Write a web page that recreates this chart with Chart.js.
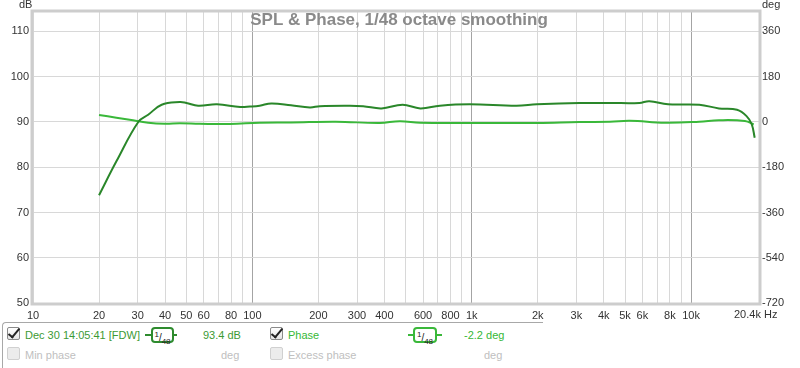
<!DOCTYPE html>
<html>
<head>
<meta charset="utf-8">
<script src="https://cdn.jsdelivr.net/npm/chart.js@4"></script>
<style>
  html, body { margin: 0; padding: 0; background: #fff; }
  body { width: 800px; height: 368px; position: relative; overflow: hidden;
         font-family: "Liberation Sans", Arial, sans-serif; font-size: 11px; }
  #wrap { position: absolute; left: 0; top: 0; width: 800px; height: 322px; }
  #panel { position: absolute; left: 2px; top: 322px; width: 540px; height: 50px;
           border-top: 1px solid #a8a8a8; border-left: 1px solid #a8a8a8; border-top-left-radius: 4px; }
  .it { position: absolute; white-space: nowrap; line-height: 13px; }
  .cb { position: absolute; width: 11px; height: 11px; border: 1px solid #8a8a8a; border-radius: 2px;
        background: linear-gradient(#fff, #e4e4e4); }
  .cb.off { border-color: #d0d0d0; background: #ececec; }
  .cb.on::after { content: ""; position: absolute; left: 3px; top: -2px; width: 4px; height: 10px;
        border: solid #222; border-width: 0 2px 2px 0; transform: rotate(40deg); }
  .badge { position: absolute; height: 12px; border-radius: 4px; font-size: 10px; line-height: 12px;
           text-align: center; color: #222; background: #fff; }
  .stub { position: absolute; height: 0; }
  .dim { color: #c0c0c0; }
</style>
</head>
<body>
<div id="wrap"><canvas id="spl" width="800" height="322"></canvas></div>
<div id="panel"></div>
<div class="cb on" style="left:7px;top:327px"></div>
<div class="it" style="left:25px;top:329px;color:#3c9a34">Dec 30 14:05:41 [FDW]</div>
<div class="stub" style="left:145px;top:334px;width:32px;border-top:2px solid #2e8b2e"></div>
<div class="badge" style="left:151px;top:327px;width:19px;border:2px solid #2e8b2e"><sup style="font-size:8px">1</sup>/<sub style="font-size:8px">48</sub></div>
<div class="it" style="left:203px;top:329px;color:#3c9a34">93.4 dB</div>
<div class="cb off" style="left:7px;top:347px"></div>
<div class="it dim" style="left:25px;top:349px">Min phase</div>
<div class="it dim" style="left:221px;top:349px">deg</div>

<div class="cb on" style="left:270px;top:327px"></div>
<div class="it" style="left:288px;top:329px;color:#36b836">Phase</div>
<div class="stub" style="left:408px;top:334px;width:34px;border-top:2px solid #3ab83a"></div>
<div class="badge" style="left:413px;top:327px;width:20px;border:2px solid #3ab83a"><sup style="font-size:8px">1</sup>/<sub style="font-size:8px">48</sub></div>
<div class="it" style="left:464px;top:329px;color:#36b836">-2.2 deg</div>
<div class="cb off" style="left:270px;top:347px"></div>
<div class="it dim" style="left:288px;top:349px">Excess phase</div>
<div class="it dim" style="left:484px;top:349px">deg</div>

<script>
// SPL curve (dB)
const splFreq = [20, 24, 30.3, 33.5, 38.6, 46.7, 50, 56.6, 69, 88, 97.5, 108, 122, 150, 183, 203, 278, 320, 388, 484, 583, 716, 978, 1600, 1982, 3105, 4270, 5810, 6450, 7850, 10900, 13400, 16200, 17900, 18900, 19500];
const splDb = [73.8, 81.3, 90.1, 91.6, 93.8, 94.4, 94.2, 93.6, 93.9, 93.3, 93.4, 93.6, 94.1, 93.7, 93.2, 93.5, 93.6, 93.5, 93.0, 93.8, 93.0, 93.6, 93.9, 93.6, 93.9, 94.2, 94.2, 94.2, 94.6, 93.9, 93.8, 93.0, 92.7, 91.3, 89.5, 86.5];

// Phase curve (deg)
const phaseFreq = [20, 24, 27.6, 33.5, 40, 46.7, 57.6, 79, 108, 150, 240, 381, 470, 583, 978, 2000, 3100, 4270, 5260, 7590, 10900, 13400, 17600, 19300];
const phaseDeg = [28, 17, 9, -3, -7, -5, -7, -8, -3, -2, 1, -4, 3, -3, -4, -4, 0, 1, 5, -3, 1, 7, 4, -10];

// axes
const xTicks = [10, 20, 30, 40, 50, 60, 70, 80, 90, 100, 200, 300, 400, 500, 600, 700, 800, 900, 1000, 2000, 3000, 4000, 5000, 6000, 7000, 8000, 9000, 10000, 20400];
const xLabels = ['10', '20', '30', '40', '50', '60', '', '80', '', '100', '200', '300', '400', '', '600', '', '800', '', '1k', '2k', '3k', '4k', '5k', '6k', '', '8k', '', '10k', ''];
const decades = [100, 1000, 10000];
const dbTicks = [50, 60, 70, 80, 90, 100, 110];
const degTicks = [-720, -540, -360, -180, 0, 180, 360];

const dbMin = 50, dbMax = 114.3;
const font = { family: '"Liberation Sans", Arial, sans-serif', size: 11 };

const decor = {
  id: 'decor',
  afterDraw(chart) {
    const { ctx, chartArea: a } = chart;
    ctx.save();
    ctx.strokeStyle = '#cdcdcd';
    ctx.lineWidth = 3;
    ctx.strokeRect(a.left - 1, a.top - 1, a.right - a.left + 2, a.bottom - a.top + 2);
    ctx.fillStyle = '#8a8a8a';
    ctx.font = 'bold 17px "Liberation Sans", Arial, sans-serif';
    ctx.textAlign = 'center';
    ctx.textBaseline = 'middle';
    ctx.fillText('SPL & Phase, 1/48 octave smoothing', (a.left + a.right) / 2 + 3, 20);
    ctx.fillStyle = '#333';
    ctx.font = '11px "Liberation Sans", Arial, sans-serif';
    ctx.textAlign = 'left';
    ctx.fillText('dB', 19, 5);
    ctx.fillText('deg', 762, 5);
    ctx.fillText('20.4k Hz', 734, 315);
    ctx.restore();
  }
};

new Chart(document.getElementById('spl').getContext('2d'), {
  type: 'line',
  data: {
    datasets: [
      {
        label: 'SPL',
        data: splFreq.map((f, i) => ({ x: f, y: splDb[i] })),
        borderColor: '#2a872a',
        borderWidth: 2,
        pointRadius: 0,
        tension: 0.4,
        yAxisID: 'y',
      },
      {
        label: 'Phase',
        data: phaseFreq.map((f, i) => ({ x: f, y: phaseDeg[i] })),
        borderColor: '#3ab83a',
        borderWidth: 2,
        pointRadius: 0,
        tension: 0.4,
        yAxisID: 'y2',
      }
    ]
  },
  options: {
    responsive: false,
    animation: false,
    layout: { padding: { top: 12, left: 0, right: 0, bottom: 0 } },
    plugins: { legend: { display: false }, tooltip: { enabled: false } },
    scales: {
      x: {
        type: 'logarithmic',
        min: 10,
        max: 20400,
        afterBuildTicks: s => { s.ticks = xTicks.map(v => ({ value: v })); },
        afterFit: s => { s.height = 19; },
        border: { display: false },
        grid: {
          drawTicks: false,
          color: c => decades.includes(c.tick && c.tick.value) ? '#a4a4a4' : '#d8d8d8',
        },
        ticks: {
          autoSkip: false,
          maxRotation: 0,
          padding: 6,
          color: '#333',
          font: font,
          callback: (v) => xLabels[xTicks.indexOf(v)] || '',
        }
      },
      y: {
        position: 'left',
        min: dbMin,
        max: dbMax,
        afterBuildTicks: s => { s.ticks = dbTicks.map(v => ({ value: v })); },
        afterFit: s => { s.width = 33; },
        border: { display: false },
        grid: { drawTicks: false, color: '#d8d8d8' },
        ticks: { padding: 4, color: '#333', font: font }
      },
      y2: {
        position: 'right',
        min: (dbMin - 90) * 18,
        max: (dbMax - 90) * 18,
        afterBuildTicks: s => { s.ticks = degTicks.map(v => ({ value: v })); },
        afterFit: s => { s.width = 41; },
        border: { display: false },
        grid: { display: false, drawTicks: false },
        ticks: { padding: 3, color: '#333', font: font }
      }
    }
  },
  plugins: [decor]
});
</script>
</body>
</html>
